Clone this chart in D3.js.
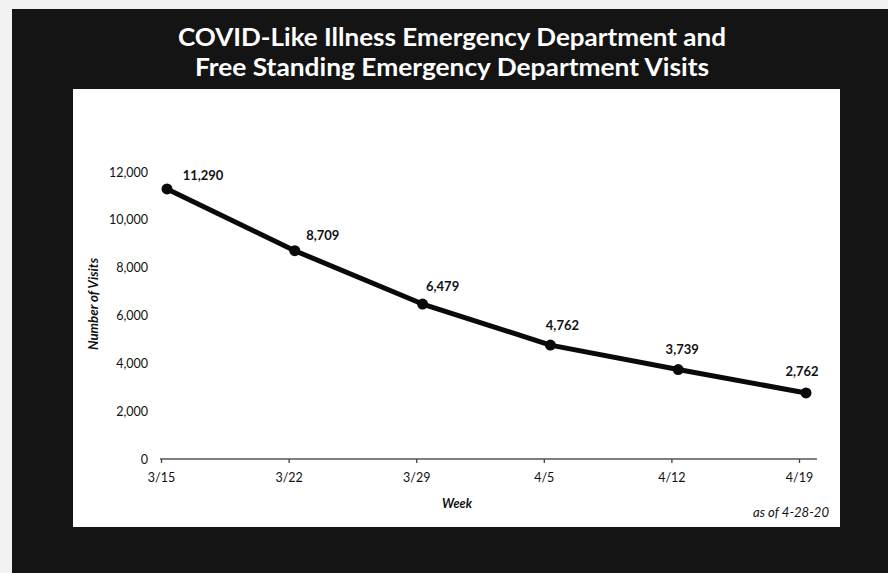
<!DOCTYPE html>
<html>
<head>
<meta charset="utf-8">
<script src="https://cdn.jsdelivr.net/npm/d3@7"></script>
<style>
  html, body { margin: 0; padding: 0; background: #f4f4f4; }
  svg { display: block; }
</style>
</head>
<body>
<svg id="chart" width="888" height="573"></svg>
<script>
// ---- data ----
const weeks = ["3/15", "3/22", "3/29", "4/5", "4/12", "4/19"];
const visits = [11290, 8709, 6479, 4762, 3739, 2762];
const yTicks = [0, 2000, 4000, 6000, 8000, 10000, 12000];
const titleLines = ["COVID-Like Illness Emergency Department and", "Free Standing Emergency Department Visits"];
const yAxisTitle = "Number of Visits";
const xAxisTitle = "Week";
const footnote = "as of 4-28-20";

const svg = d3.select("#chart");
const FONT = "Lato, 'Open Sans', sans-serif";

// background scan frame
svg.append("rect").attr("x", 0).attr("y", 0).attr("width", 888).attr("height", 573).attr("fill", "#f2f2f2");
svg.append("rect").attr("x", 12).attr("y", 9).attr("width", 876).attr("height", 564).attr("fill", "#141414");
// white chart panel
svg.append("rect").attr("x", 73).attr("y", 89).attr("width", 767).attr("height", 438).attr("fill", "#ffffff");

// title
const tw = [548, 514];
svg.selectAll("text.title").data(titleLines).join("text")
  .attr("class", "title")
  .attr("x", 452)
  .attr("y", (d, i) => 46 + i * 30)
  .attr("text-anchor", "middle")
  .attr("font-family", FONT)
  .attr("font-weight", 700)
  .attr("font-size", 25)
  .attr("fill", "#ffffff")
  .attr("textLength", (d, i) => tw[i])
  .attr("lengthAdjust", "spacingAndGlyphs")
  .text(d => d);

// scales
const y = d3.scaleLinear().domain([0, 12000]).range([459, 172]);
const xTick = d3.scalePoint().domain(weeks).range([161, 799]);
const xPoint = d3.scalePoint().domain(weeks).range([167, 806]);
const xLabel = d3.scalePoint().domain(weeks).range([203, 802]);
const yLabel = d3.scaleLinear().domain([0, 12000]).range([435, 159]);

// y axis labels (no line)
const yAxis = d3.axisLeft(y).tickValues(yTicks).tickSize(0).tickPadding(0)
  .tickFormat(d3.format(","));
const gy = svg.append("g").attr("transform", "translate(148,0)").call(yAxis);
gy.select(".domain").remove();
gy.selectAll("text").attr("font-family", FONT).attr("font-size", 12.5).attr("fill", "#111");

// x axis
const xAxis = d3.axisBottom(xTick).tickSize(4).tickPadding(10);
const gx = svg.append("g").attr("transform", "translate(0,459)").call(xAxis);
gx.select(".domain").attr("d", "M160,0H817").attr("stroke", "#555").attr("stroke-width", 1.3);
gx.selectAll(".tick line").attr("stroke", "#444").attr("stroke-width", 1.3);
gx.selectAll("text").attr("font-family", FONT).attr("font-size", 12.5).attr("fill", "#111");

// line
const line = d3.line().x((d, i) => xPoint(weeks[i])).y(d => y(d));
svg.append("path").datum(visits)
  .attr("d", line)
  .attr("fill", "none")
  .attr("stroke", "#0a0a0a")
  .attr("stroke-width", 5)
  .attr("stroke-linejoin", "round");

svg.selectAll("circle.pt").data(visits).join("circle")
  .attr("class", "pt")
  .attr("cx", (d, i) => xPoint(weeks[i]))
  .attr("cy", d => y(d))
  .attr("r", 5.5)
  .attr("fill", "#0a0a0a");

// data labels
svg.selectAll("text.lbl").data(visits).join("text")
  .attr("class", "lbl")
  .attr("x", (d, i) => xLabel(weeks[i]))
  .attr("y", d => yLabel(d) + 5)
  .attr("text-anchor", "middle")
  .attr("font-family", FONT)
  .attr("font-weight", 700)
  .attr("font-size", 13)
  .attr("fill", "#111")
  .text(d => d3.format(",")(d));

// axis titles
svg.append("text")
  .attr("transform", "translate(98,304) rotate(-90)")
  .attr("text-anchor", "middle")
  .attr("font-family", FONT)
  .attr("font-style", "italic")
  .attr("font-weight", 700)
  .attr("font-size", 13)
  .attr("fill", "#111")
  .attr("textLength", 92)
  .attr("lengthAdjust", "spacingAndGlyphs")
  .text(yAxisTitle);

svg.append("text")
  .attr("x", 457).attr("y", 508)
  .attr("text-anchor", "middle")
  .attr("font-family", FONT)
  .attr("font-style", "italic")
  .attr("font-weight", 700)
  .attr("font-size", 12.5)
  .attr("fill", "#111")
  .text(xAxisTitle);

svg.append("text")
  .attr("x", 829).attr("y", 517)
  .attr("text-anchor", "end")
  .attr("font-family", FONT)
  .attr("font-style", "italic")
  .attr("font-size", 13)
  .attr("fill", "#111")
  .attr("textLength", 76)
  .attr("lengthAdjust", "spacingAndGlyphs")
  .text(footnote);
</script>
</body>
</html>
